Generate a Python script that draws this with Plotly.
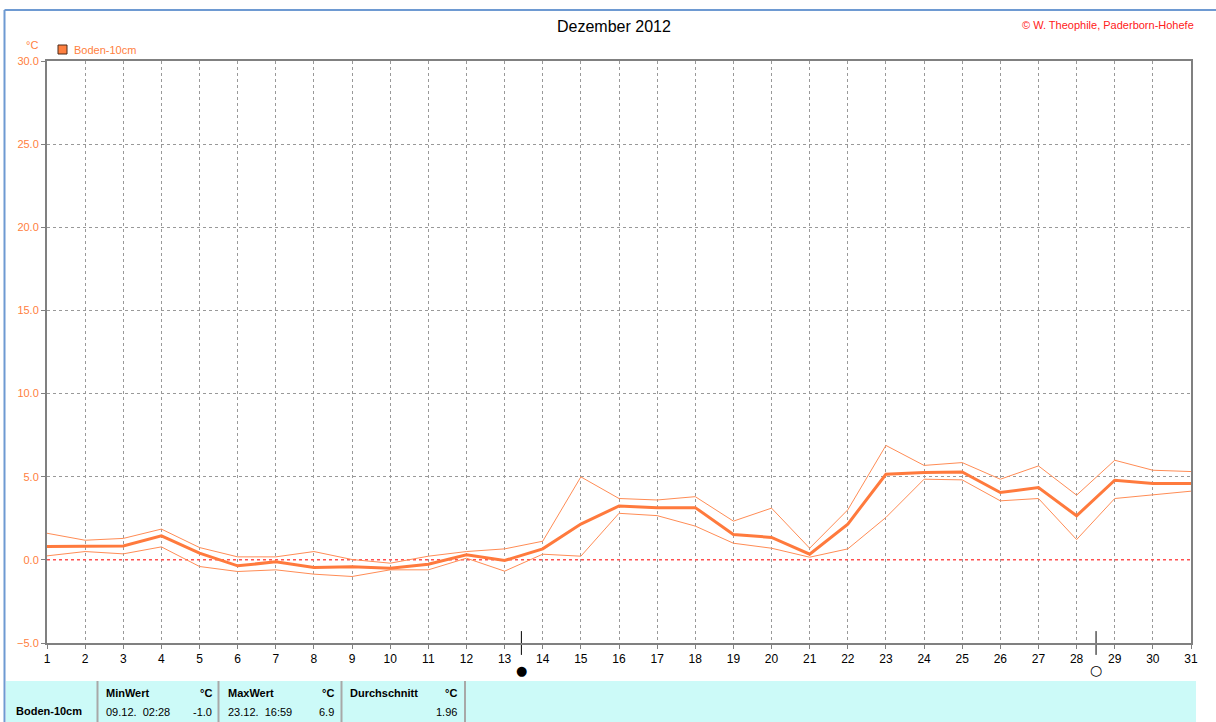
import plotly.graph_objects as go

days = list(range(1, 32))
mean_vals = [0.8, 0.84, 0.84, 1.44, 0.4, -0.36, -0.12, -0.46, -0.42, -0.5, -0.26,
             0.3, -0.04, 0.66, 2.15, 3.24, 3.14, 3.14, 1.53, 1.35, 0.34,
             2.15, 5.15, 5.25, 5.29, 4.05, 4.35, 2.65, 4.79, 4.59, 4.59]
max_vals = [1.6, 1.18, 1.29, 1.85, 0.74, 0.18, 0.18, 0.5, 0.02, -0.2, 0.22,
            0.5, 0.66, 1.12, 4.99, 3.69, 3.6, 3.8, 2.33, 3.11, 0.7,
            3.01, 6.88, 5.68, 5.85, 4.85, 5.65, 3.89, 5.99, 5.39, 5.31]
min_vals = [0.24, 0.5, 0.36, 0.78, -0.4, -0.7, -0.6, -0.86, -1.0, -0.6, -0.6,
            0.1, -0.68, 0.34, 0.22, 2.8, 2.66, 2.03, 1.0, 0.7, 0.16,
            0.66, 2.55, 4.85, 4.81, 3.55, 3.69, 1.22, 3.69, 3.89, 4.13]
moon_new = [13.44]
moon_full = [28.51]

series_name = "Boden-10cm"
title_text = "Dezember 2012"
credit_text = "© W. Theophile, Paderborn-Hohefe"
stat_headers = ["MinWert", "MaxWert", "Durchschnitt"]
stat_dates = ["09.12.  02:28", "23.12.  16:59", ""]
stat_values = ["-1.0", "6.9", "1.96"]
unit = "°C"

W, H = 1216, 722
L, R, T, B = 47, 1191, 61, 643
FONT = "Liberation Sans"
ORANGE = "#FF8040"


def px(x):
    return (x - L) / (R - L)


def py(y):
    return (B - y) / (B - T)


fig = go.Figure()

# zero line (red dotted)
fig.add_trace(go.Scatter(x=[days[0], days[-1]], y=[0, 0], mode="lines",
                         line=dict(color="#FF5050", width=1.5, dash="dot"),
                         hoverinfo="skip", showlegend=False))
fig.add_trace(go.Scatter(x=days, y=max_vals, mode="lines",
                         line=dict(color="#FF8C55", width=1), showlegend=False))
fig.add_trace(go.Scatter(x=days, y=min_vals, mode="lines",
                         line=dict(color="#FF8C55", width=1), showlegend=False))
fig.add_trace(go.Scatter(x=days, y=mean_vals, mode="lines",
                         line=dict(color="#FF7A3D", width=3), showlegend=False))

# moon phase tick marks on the axis
fig.add_trace(go.Scatter(x=moon_new + moon_full, y=[-5, -5], mode="markers",
                         marker=dict(symbol="line-ns", size=17,
                                     line=dict(color="black", width=1)),
                         cliponaxis=False, showlegend=False, hoverinfo="skip"))

shapes = []
annotations = []

# blue outer frame (top and left)
shapes.append(dict(type="line", xref="paper", yref="paper",
                   x0=px(4.5), x1=px(1216), y0=py(10), y1=py(10),
                   line=dict(color="#6E9AD2", width=2)))
shapes.append(dict(type="line", xref="paper", yref="paper",
                   x0=px(4.5), x1=px(4.5), y0=py(10), y1=py(722),
                   line=dict(color="#6E9AD2", width=2)))

# stats table background
shapes.append(dict(type="rect", xref="paper", yref="paper",
                   x0=px(6), x1=px(1196), y0=py(681), y1=py(722),
                   fillcolor="#CCFAF8", line=dict(width=0), layer="below"))
for dx in [97.5, 218.5, 341.5, 465]:
    shapes.append(dict(type="line", xref="paper", yref="paper",
                       x0=px(dx), x1=px(dx), y0=py(681), y1=py(722),
                       line=dict(color="#A8A8A8", width=2)))

# legend square
shapes.append(dict(type="rect", xref="paper", yref="paper",
                   x0=px(58), x1=px(67), y0=py(54), y1=py(45),
                   fillcolor=ORANGE, line=dict(color="#4A2A1A", width=1)))


def ann(text, x, y, xanchor="left", size=11, color="black", bold=False):
    annotations.append(dict(text=("<b>%s</b>" % text) if bold else text,
                            x=px(x), y=py(y), xref="paper", yref="paper",
                            xanchor=xanchor, yanchor="middle", showarrow=False,
                            font=dict(family=FONT, size=size, color=color)))


ann(title_text, 614, 27, xanchor="center", size=16)
ann(credit_text, 1020, 25, size=11, color="#FF2020")
ann(unit, 32, 45, xanchor="center", size=11, color=ORANGE)
ann(series_name, 72, 50, size=11, color=ORANGE)

# moon phase symbols below the axis
for d in moon_new:
    annotations.append(dict(text="●", x=d, xref="x", y=py(670), yref="paper",
                            xanchor="center", yanchor="middle", showarrow=False,
                            font=dict(family="DejaVu Sans", size=13, color="black")))
for d in moon_full:
    annotations.append(dict(text="○", x=d, xref="x", y=py(670), yref="paper",
                            xanchor="center", yanchor="middle", showarrow=False,
                            font=dict(family="DejaVu Sans", size=14, color="black")))

# table text
ann(series_name, 14, 711, bold=True)
col_left = [104, 226, 348]
col_right = [214, 336, 459]
for i in range(3):
    ann(stat_headers[i], col_left[i], 693, bold=True)
    ann(unit, col_right[i], 693, xanchor="right", bold=True)
    if stat_dates[i]:
        ann(stat_dates[i], col_left[i], 712)
    ann(stat_values[i], col_right[i], 712, xanchor="right")

fig.update_layout(
    width=W, height=H,
    margin=dict(l=L, r=W - R, t=T, b=H - B),
    paper_bgcolor="white", plot_bgcolor="white",
    shapes=shapes, annotations=annotations,
    showlegend=False,
    xaxis=dict(range=[1, 31], tickmode="linear", tick0=1, dtick=1,
               showgrid=True, gridcolor="#999999", griddash="3px,3px", gridwidth=1,
               showline=True, linecolor="#808080", linewidth=2, mirror=True,
               ticks="outside", ticklen=4, tickcolor="#808080",
               tickfont=dict(family=FONT, size=12, color="black"),
               zeroline=False, fixedrange=True),
    yaxis=dict(range=[-5, 30], tickmode="linear", tick0=-5, dtick=5,
               tickformat=".1f",
               showgrid=True, gridcolor="#999999", griddash="3px,3px", gridwidth=1,
               showline=True, linecolor="#808080", linewidth=2, mirror=True,
               ticks="outside", ticklen=4, tickcolor="#808080",
               tickfont=dict(family=FONT, size=11, color=ORANGE),
               zeroline=False, fixedrange=True),
)

fig.write_html("out.html", config={"displayModeBar": False},
               post_script="document.body.style.margin='0px';")
